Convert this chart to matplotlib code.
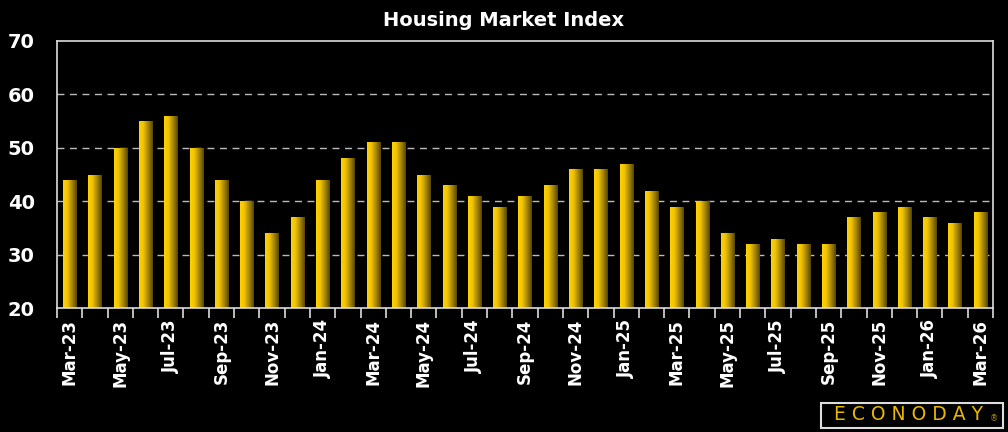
import matplotlib
matplotlib.use("Agg")
import matplotlib.pyplot as plt
import numpy as np
from matplotlib.patches import Rectangle
from matplotlib.colors import LinearSegmentedColormap

months = ["Mar-23","Apr-23","May-23","Jun-23","Jul-23","Aug-23","Sep-23","Oct-23","Nov-23","Dec-23",
          "Jan-24","Feb-24","Mar-24","Apr-24","May-24","Jun-24","Jul-24","Aug-24","Sep-24","Oct-24","Nov-24","Dec-24",
          "Jan-25","Feb-25","Mar-25","Apr-25","May-25","Jun-25","Jul-25","Aug-25","Sep-25","Oct-25","Nov-25","Dec-25",
          "Jan-26","Feb-26","Mar-26"]
values = [44,45,50,55,56,50,44,40,34,37,
          44,48,51,51,45,43,41,39,41,43,46,46,
          47,42,39,40,34,32,33,32,32,37,38,39,
          37,36,38]

fig = plt.figure(figsize=(10.08, 4.32), dpi=100, facecolor="black")
ax = fig.add_axes([57/1008, 1-308/432, (993-57)/1008, (308-41)/432])
ax.set_facecolor("black")

x = np.arange(len(values))
bars = ax.bar(x, [v-20 for v in values], bottom=20, width=0.52, color="#e0b800", zorder=3)

cmap = LinearSegmentedColormap.from_list("gold", [(0, "#ffd200"), (0.3, "#f2c400"),
                                                  (0.65, "#a88800"), (1, "#574600")])
grad = np.linspace(0, 1, 64).reshape(1, -1)
for b in bars:
    x0, y0 = b.get_x(), b.get_y()
    w, h = b.get_width(), b.get_height()
    im = ax.imshow(grad, cmap=cmap, extent=[x0, x0+w, y0, y0+h], aspect="auto", zorder=4,
                   interpolation="bilinear")
    im.set_clip_path(b)

ax.set_xlim(-0.5, len(values)-0.5)
ax.set_ylim(20, 70)
ax.set_yticks([20,30,40,50,60,70])
for yv in [30, 40, 50, 60]:
    ax.axhline(yv, color="#bbbbbb", linestyle=(0,(5,4)), linewidth=1, zorder=1)
ax.tick_params(axis="y", length=0, colors="white", labelsize=14, pad=16)
for lab in ax.get_yticklabels():
    lab.set_fontweight("bold")

ax.set_xticks(np.arange(-0.5, len(values)), minor=True)
ax.tick_params(axis="x", which="minor", length=7, color="#dddddd", width=1.2)
ax.set_xticks(x[::2])
ax.set_xticklabels(months[::2], rotation=90, fontsize=12, fontweight="bold", color="white")
ax.tick_params(axis="x", which="major", length=0, pad=8)

for s in ["left","top","right","bottom"]:
    ax.spines[s].set_color("#dddddd")
    ax.spines[s].set_linewidth(1.2)
    ax.spines[s].set_zorder(6)

fig.text(0.5, 1-20/432, "Housing Market Index", color="white", fontsize=14, fontweight="bold",
         ha="center", va="center")

# logo
fig.patches.append(Rectangle((821/1008, 1-428/432), 182/1008, 25/432, transform=fig.transFigure,
                             fill=False, edgecolor="#dddddd", linewidth=1.5))
fig.text(909/1008, 1-415/432, "E C O N O D A Y", color="#e8b800", fontsize=13.5,
         ha="center", va="center", fontweight="normal")
fig.text(994/1008, 1-419/432, "®", color="#b08e00", fontsize=6, ha="center", va="center")

fig.savefig("out.png", dpi=100, facecolor="black")
